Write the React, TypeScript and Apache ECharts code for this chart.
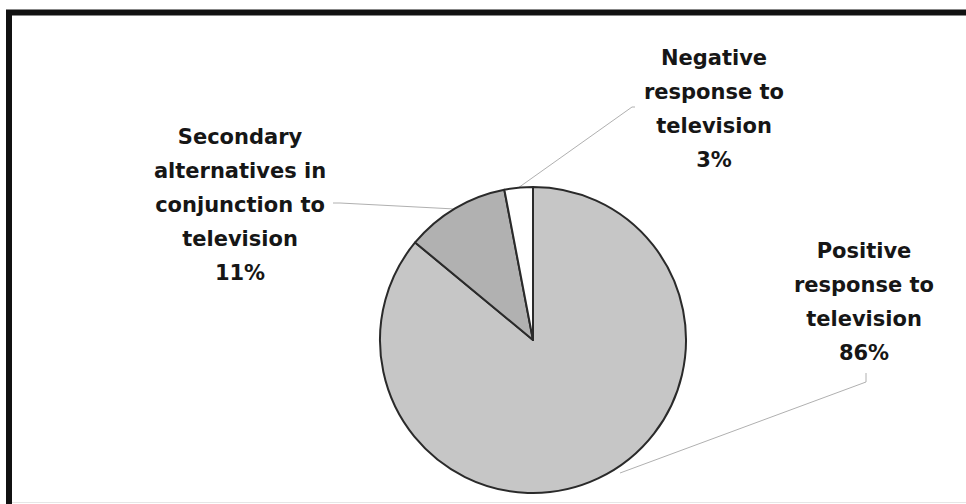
import React, { useEffect, useRef } from "react";
import * as echarts from "echarts";

const categories = [
  "Positive\nresponse to\ntelevision",
  "Secondary\nalternatives in\nconjunction to\ntelevision",
  "Negative\nresponse to\ntelevision",
];
const values = [86, 11, 3];
const sliceColors = ["#c6c6c6", "#b1b1b1", "#ffffff"];

// label block centres and leader-line geometry (annotation layout)
const labelCentres = [
  [864, 302],
  [240, 205],
  [714, 109],
];
const leaderLines = [
  [[620, 473], [866, 382], [866, 373]],
  [[455, 209], [340, 203], [333, 203]],
  [[518, 188], [632, 107], [635, 107]],
];

export default function App() {
  const ref = useRef<HTMLDivElement>(null);
  useEffect(() => {
    if (!ref.current) return;
    const chart = echarts.init(ref.current, null, { renderer: "svg" });
    chart.setOption({
      animation: false,
      backgroundColor: "#ffffff",
      graphic: [
        {
          type: "rect",
          shape: { x: 9, y: 12.5, width: 1100, height: 700 },
          style: { fill: "none", stroke: "#111111", lineWidth: 6 },
          z: 10,
        },
        {
          type: "line",
          shape: { x1: 12, y1: 502.5, x2: 966, y2: 502.5 },
          style: { stroke: "#e6e6e6", lineWidth: 1 },
          z: 10,
        },
      ],
      series: [
        {
          type: "pie",
          center: [533, 340],
          radius: 153,
          startAngle: 90,
          clockwise: true,
          avoidLabelOverlap: false,
          itemStyle: { borderColor: "#2a2a2a", borderWidth: 2 },
          label: {
            show: true,
            formatter: (p: any) => `${p.name}\n${p.value}%`,
            fontFamily: "DejaVu Sans",
            fontWeight: "bold",
            fontSize: 21,
            lineHeight: 34,
            color: "#161616",
            align: "center",
          },
          labelLine: {
            show: true,
            smooth: false,
            lineStyle: { color: "#b0b0b0", width: 1 },
          },
          labelLayout: (params: any) => {
            const i = params.dataIndex;
            return {
              x: labelCentres[i][0],
              y: labelCentres[i][1],
              align: "center",
              verticalAlign: "middle",
              labelLinePoints: leaderLines[i].map((p) => [p[0], p[1]]),
            };
          },
          data: categories.map((name, i) => ({
            name,
            value: values[i],
            itemStyle: { color: sliceColors[i] },
          })),
        },
      ],
    });
    return () => chart.dispose();
  }, []);
  return (
    <div
      ref={ref}
      style={{ position: "fixed", left: 0, top: 0, width: 966, height: 504 }}
    />
  );
}
